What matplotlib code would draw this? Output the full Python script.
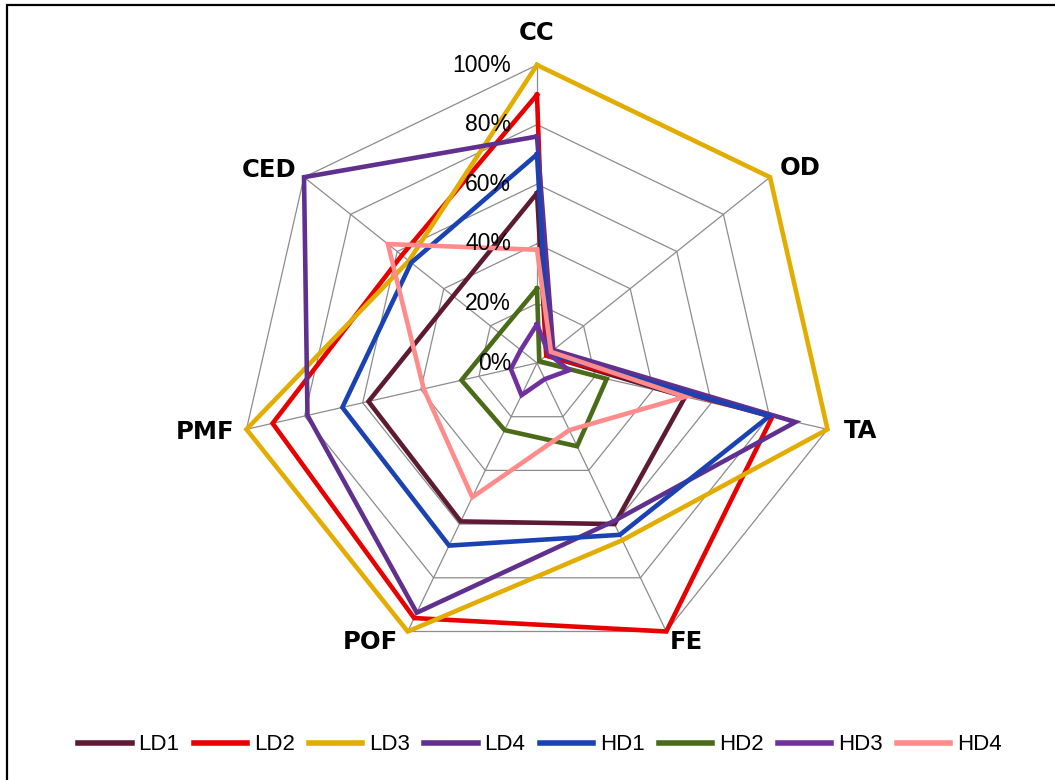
import numpy as np
import matplotlib
matplotlib.use("Agg")
import matplotlib.pyplot as plt
from matplotlib.patches import Rectangle

# categories clockwise from top
categories = ["CC", "OD", "TA", "FE", "POF", "PMF", "CED"]
series_names = ["LD1", "LD2", "LD3", "LD4", "HD1", "HD2", "HD3", "HD4"]

# values in percent
LD1 = [57, 4, 51, 60, 59, 58, 36]
LD2 = [90, 4, 81, 100, 95, 91, 58]
LD3 = [100, 100, 100, 66, 100, 100, 55]
LD4 = [76, 7, 89, 59, 93, 79, 100]
HD1 = [70, 5, 80, 64, 68, 67, 54]
HD2 = [25, 1, 24, 31, 25, 26, 16]
HD3 = [13, 5, 11, 6, 12, 9, 7]
HD4 = [38, 6, 51, 25, 50, 39, 64]
series = [LD1, LD2, LD3, LD4, HD1, HD2, HD3, HD4]

colors = ["#5E1A32", "#E80000", "#E2AC00", "#60308F", "#1A42B2", "#4A6B18", "#7030A0", "#FF8B8B"]

tick_vals = [0, 20, 40, 60, 80, 100]
tick_labels = ["0%", "20%", "40%", "60%", "80%", "100%"]

W, H = 1055, 780
fig = plt.figure(figsize=(W / 100, H / 100), dpi=100)
fig.patch.set_facecolor("white")

# chart border
fig.add_artist(Rectangle((7 / W, -0.01), 1.05, (H - 5) / H + 0.01, transform=fig.transFigure,
                         fill=False, edgecolor="black", linewidth=1.6))

cx, cy, R = 537, 363, 298
ax = fig.add_axes([(cx - R) / W, (H - cy - R) / H, 2 * R / W, 2 * R / H], polar=True)
ax.set_theta_offset(np.pi / 2)
ax.set_theta_direction(-1)
ax.set_ylim(0, 100)
ax.grid(False)
ax.spines["polar"].set_visible(False)
ax.set_xticks([])
ax.set_yticks([])
ax.patch.set_alpha(0)

n = len(categories)
theta = np.arange(n) * 2 * np.pi / n
theta_c = np.append(theta, theta[0])

# heptagon grid + spokes
for v in tick_vals[1:]:
    ax.plot(theta_c, [v] * (n + 1), color="#8C8C8C", lw=0.9, zorder=1, clip_on=False)
for t in theta:
    ax.plot([t, t], [0, 100], color="#8C8C8C", lw=0.9, zorder=1, clip_on=False)

for name, vals, c in zip(series_names, series, colors):
    ax.plot(theta_c, vals + vals[:1], color=c, lw=3.3, label=name, zorder=3,
            clip_on=False, solid_joinstyle="miter")

# radial labels on CC axis
for v, lab in zip(tick_vals, tick_labels):
    ax.annotate(lab, xy=(0, v), xytext=(-26, 0), textcoords="offset pixels",
                ha="right", va="center", fontsize=16.5, family="Liberation Sans", zorder=5)

# category labels
label_offsets = [(0, 32), (30, 9), (33, -2), (20, -11), (-37, -11), (-41, -3), (-35, 7)]
for t, cat, off in zip(theta, categories, label_offsets):
    ax.annotate(cat, xy=(t, 100), xytext=off, textcoords="offset pixels",
                ha="center", va="center", fontsize=17.5, fontweight="bold",
                family="DejaVu Sans", annotation_clip=False)

leg = fig.legend(loc="center", bbox_to_anchor=(540 / W, 1 - 745 / H), ncol=8, frameon=False,
                 prop={"family": "Liberation Sans", "size": 16}, handlelength=2.4,
                 handletextpad=0.3, columnspacing=0.65)
for line in leg.get_lines():
    line.set_linewidth(4)

fig.savefig("out.png", dpi=100)
